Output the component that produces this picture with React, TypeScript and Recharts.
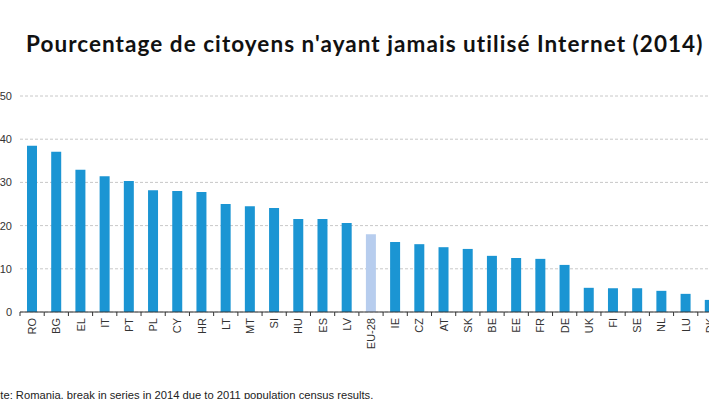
import React from 'react';
import { BarChart, Bar, Cell, XAxis, YAxis, CartesianGrid } from 'recharts';

// pays (codes Eurostat) et part des citoyens n'ayant jamais utilisé Internet, 2014
const countries = ['RO', 'BG', 'EL', 'IT', 'PT', 'PL', 'CY', 'HR', 'LT', 'MT', 'SI', 'HU', 'ES', 'LV', 'EU-28',
    'IE', 'CZ', 'AT', 'SK', 'BE', 'EE', 'FR', 'DE', 'UK', 'FI', 'SE', 'NL', 'LU', 'DK'];
const percentages = [38.5, 37.1, 32.9, 31.4, 30.3, 28.2, 28, 27.8, 25, 24.5, 24.1, 21.5, 21.5, 20.6, 18,
    16.2, 15.7, 15, 14.6, 13, 12.5, 12.3, 10.9, 5.6, 5.5, 5.5, 4.9, 4.2, 2.8];
const yTicks = [0, 10, 20, 30, 40, 50];

const TITLE = "Pourcentage de citoyens n'ayant jamais utilisé Internet (2014)";
const NOTE = 'Note: Romania, break in series in 2014 due to 2011 population census results.';

const BLUE = '#1b95d3';
const EU_BLUE = '#b7cdee';
const FONT = "'Liberation Sans', Arial, sans-serif";

const CHART_W = 732;
const Y_AXIS_W = 30;
const BAND = (CHART_W - Y_AXIS_W) / countries.length;

const data = countries.map((c, i) => ({ country: c, value: percentages[i] }));

const CountryTick = (props: any) => {
    const { x, y, payload } = props;
    return (
        <g transform={`translate(${x},${y})`}>
            <line x1={-BAND / 2} x2={-BAND / 2} y1={0} y2={4} stroke="#333" />
            <text transform="rotate(-90)" x={-6} y={0} dy={4} textAnchor="end"
                fontSize={11} fill="#333" fontFamily={FONT}>
                {payload.value}
            </text>
        </g>
    );
};

const App: React.FC = () => {
    return (
        <div style={{ position: 'absolute', left: 0, top: 0, width: 709, height: 399, overflow: 'hidden', background: '#fff' }}>
            <div style={{
                position: 'absolute', left: 26, top: 30, whiteSpace: 'nowrap',
                fontFamily: 'Lato, sans-serif', fontSize: 22.5, fontWeight: 700, letterSpacing: 1.05, color: '#111'
            }}>
                {TITLE}
            </div>
            <div style={{ position: 'absolute', left: -10, top: 0 }}>
                <BarChart width={CHART_W} height={399} data={data}
                    margin={{ top: 96, right: 0, bottom: 0, left: 0 }}>
                    <CartesianGrid vertical={false} stroke="#c8c8c8" strokeDasharray="3 2" />
                    <XAxis dataKey="country" interval={0} height={87} tickSize={0} tickMargin={0}
                        tick={<CountryTick />} stroke="#333" />
                    <YAxis domain={[0, 50]} ticks={yTicks} width={Y_AXIS_W} axisLine={false} tickLine={false}
                        tickSize={0} tickMargin={8}
                        tick={{ fontSize: 11, fill: '#333', fontFamily: FONT }} />
                    <Bar dataKey="value" barSize={10} isAnimationActive={false}>
                        {data.map((d, i) => (
                            <Cell key={`cell-${i}`} fill={d.country === 'EU-28' ? EU_BLUE : BLUE} />
                        ))}
                    </Bar>
                </BarChart>
            </div>
            <div style={{
                position: 'absolute', left: -14, top: 389, whiteSpace: 'nowrap',
                fontFamily: FONT, fontSize: 11.2, color: '#222'
            }}>
                {NOTE}
            </div>
        </div>
    );
};

export default App;
